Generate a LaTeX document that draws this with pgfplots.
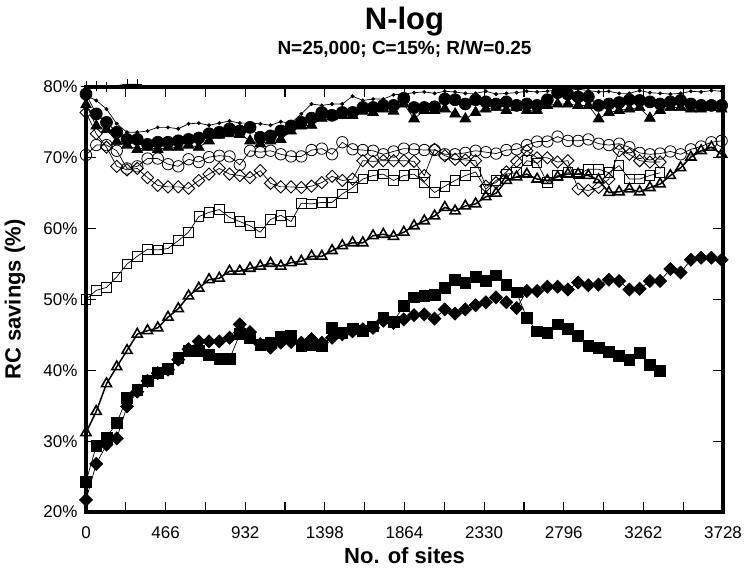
\documentclass[border=0pt]{standalone}
\usepackage{fontspec}
\setmainfont{Liberation Sans}
\usepackage{pgfplots}
\usepackage{pgfplotstable}
\pgfplotsset{compat=1.18}

\pgfplotstableread{
x sd fc ft oc od os ot fs fd
0 78.8 79.0 77.5 70.4 76.4 50.0 31.2 24.3 21.7
60 78.1 76.2 74.5 71.8 73.4 51.3 34.2 29.3 26.8
120 76.9 75.0 74.0 71.8 71.5 51.7 38.1 30.5 29.5
180 74.8 73.6 72.3 71.0 68.8 53.2 40.5 32.6 30.4
240 73.6 72.6 71.8 68.5 68.3 55.0 42.8 36.1 34.9
300 73.6 72.6 71.2 68.8 68.5 56.1 45.1 37.3 37.0
360 73.8 71.9 71.5 69.9 67.2 57.1 45.6 38.5 38.5
420 74.3 72.2 71.2 69.9 66.1 57.0 46.0 39.6 39.6
480 74.3 72.2 71.5 69.1 65.9 57.2 47.5 40.2 40.1
540 74.1 72.4 71.5 68.8 65.9 58.3 48.7 41.8 41.5
600 74.8 72.6 71.8 69.8 65.7 59.5 50.5 42.7 43.0
660 74.9 72.8 71.5 69.4 66.8 61.7 51.6 42.7 44.1
720 74.6 73.4 72.4 70.1 67.7 62.3 52.8 42.2 44.1
780 74.9 73.6 73.2 70.3 68.5 62.7 53.0 41.6 44.1
840 75.2 74.1 73.4 70.2 67.7 61.6 54.0 41.6 44.6
900 74.9 73.8 73.3 69.0 67.5 61.0 54.0 45.1 46.5
960 74.9 74.3 72.4 71.0 67.2 60.4 54.4 44.6 45.4
1020 74.8 72.9 72.0 70.8 68.2 59.5 54.7 43.6 43.7
1080 74.6 73.1 72.4 71.0 66.4 61.3 55.1 43.9 43.2
1140 75.1 73.8 72.6 70.5 65.9 61.9 54.7 44.8 43.9
1200 74.9 74.5 73.8 70.2 65.9 61.0 55.2 44.9 44.0
1260 76.2 75.0 74.5 70.2 65.8 63.6 55.4 43.4 43.9
1320 77.6 75.6 74.6 71.1 66.0 63.5 56.1 43.6 44.4
1380 77.4 76.4 75.6 71.3 66.5 63.7 56.1 43.4 43.9
1440 77.6 76.0 75.8 70.5 67.4 63.7 56.9 46.0 44.6
1500 77.6 76.4 76.0 72.2 66.8 64.9 57.6 45.3 45.1
1560 78.7 76.4 76.0 71.2 67.0 65.8 58.0 45.8 45.5
1620 78.1 77.1 76.6 71.1 69.6 67.0 58.0 45.6 45.8
1680 78.3 77.1 76.4 71.0 69.5 67.5 59.0 46.2 46.0
1740 78.3 77.4 76.9 70.5 69.6 67.7 59.2 47.4 47.0
1800 78.9 77.4 76.6 70.9 69.6 66.8 58.9 46.9 46.7
1860 79.0 78.4 77.6 71.3 69.6 67.5 59.5 49.1 47.2
1920 79.2 77.1 75.5 71.2 69.5 67.7 60.4 50.3 47.8
1980 79.3 77.1 76.7 71.1 67.5 66.5 61.1 50.5 47.9
2040 79.1 77.2 76.7 71.1 71.2 65.1 61.8 50.7 47.3
2100 79.4 78.3 76.9 70.5 70.3 66.0 63.0 51.7 48.6
2160 79.3 78.2 76.2 70.5 69.8 66.8 62.5 52.8 48.0
2220 79.1 77.6 75.5 70.7 69.7 67.5 63.2 52.4 48.6
2280 79.1 78.2 76.4 71.0 69.6 68.0 63.5 53.2 49.2
2340 79.4 77.9 76.9 70.8 66.0 65.6 64.5 52.6 49.6
2400 79.0 77.6 77.1 70.6 66.5 66.8 65.0 53.4 50.3
2460 79.1 77.9 76.7 71.1 68.0 67.7 66.8 52.1 49.6
2520 79.2 77.4 77.1 71.2 69.5 67.9 67.3 51.0 48.8
2580 79.4 77.6 76.7 71.8 71.0 69.6 67.7 47.4 51.2
2640 79.3 77.4 76.7 72.3 70.0 69.3 67.0 45.5 51.2
2700 79.4 78.2 77.4 72.3 70.0 66.5 66.8 45.3 51.8
2760 79.6 79.2 77.6 73.0 69.4 67.5 67.3 46.5 51.8
2820 79.5 79.0 77.6 72.4 69.6 67.9 67.7 45.9 51.4
2880 79.7 78.6 77.4 72.4 65.6 67.7 67.7 44.9 52.4
2940 79.5 78.6 77.4 72.6 65.4 68.4 67.5 43.4 52.0
3000 79.3 77.4 75.5 72.0 65.8 68.4 66.9 43.2 52.1
3060 79.4 77.6 76.4 71.8 67.0 67.9 65.1 42.6 52.8
3120 79.1 77.8 76.7 72.0 71.0 68.9 65.2 42.0 52.6
3180 79.1 78.2 76.9 71.5 70.5 67.0 65.6 41.5 51.4
3240 79.5 78.1 77.1 70.7 69.6 67.0 65.2 42.5 51.5
3300 79.2 77.9 75.6 70.5 69.4 67.5 65.8 40.8 52.6
3360 79.1 77.6 76.7 70.6 69.4 67.9 66.3 39.9 52.6
3420 79.0 77.9 77.1 70.9 nan nan 67.5 nan 54.3
3480 79.1 78.1 77.1 70.5 nan nan 68.6 nan 53.8
3540 79.4 77.6 76.9 71.2 nan nan 70.1 nan 55.6
3600 79.3 77.4 76.9 71.6 nan nan 71.0 nan 55.9
3660 79.5 77.4 77.1 72.2 nan nan 71.5 nan 55.9
3720 79.4 77.4 76.9 72.4 nan nan 70.5 nan 55.6
}\data

\pgfplotstableread{
x y
0 80.1
60 80.1
120 80.0
240 80.4
300 80.4
}\plusdata

\begin{document}
\begin{tikzpicture}
\useasboundingbox (-86pt,-57pt) rectangle (660pt,512pt);
\begin{axis}[
  at={(0pt,0pt)}, anchor=south west,
  scale only axis, width=637pt, height=425pt,
  xmin=0, xmax=3728, ymin=20, ymax=80,
  clip=false,
  xtick={0,466,...,3728}, minor x tick num=1,
  ytick={20,30,...,80},
  scaled x ticks=false,
  /pgf/number format/1000 sep={},
  /pgf/number format/assume math mode=true,
  yticklabel={\pgfmathprintnumber{\tick}\%},
  tick align=inside,
  major tick length=10pt, minor tick length=10pt,
  every tick/.style={line width=1.2pt, black},
  axis line style={line width=3.2pt},
  ticklabel style={font=\fontsize{17}{20}\selectfont},
  xticklabel style={yshift=-11pt},
  yticklabel style={xshift=-5pt},
  xlabel={No. of sites}, ylabel={RC savings (\%)},
  label style={font=\fontsize{22}{26}\selectfont\bfseries},
  xlabel style={at={(axis description cs:0.5,-0.103)}, anchor=center},
  ylabel style={at={(axis description cs:-0.1115,0.5)}, anchor=center},
]
\node[font=\fontsize{31}{36}\selectfont\bfseries, yshift=65pt] at (rel axis cs:0.5,1) {N-log};
\node[font=\fontsize{19}{23}\selectfont\bfseries, yshift=38pt] at (rel axis cs:0.5,1) {N=25,000; C=15\%; R/W=0.25};

\addplot[black, line width=0.7pt, mark=+, mark size=5pt, mark options={line width=0.8pt}] table[x=x,y=y]{\plusdata};
\addplot[black, line width=0.7pt, mark=*, mark size=1.6pt] table[x=x,y=sd]{\data};
\addplot[black, line width=0.7pt, mark=o, mark size=5.7pt, mark options={line width=0.8pt}] table[x=x,y=oc]{\data};
\addplot[black, line width=0.7pt, mark=square, mark size=4.3pt, mark options={rotate=45, line width=0.9pt}] table[x=x,y=od]{\data};
\addplot[black, line width=0.7pt, mark=square, mark size=4.8pt, mark options={line width=0.9pt}] table[x=x,y=os]{\data};
\addplot[black, line width=1.5pt, mark=triangle, mark size=5.8pt, mark options={line width=1.6pt}] table[x=x,y=ot]{\data};
\addplot[black, line width=0.7pt, mark=square*, mark size=5.4pt] table[x=x,y=fs]{\data};
\addplot[black, line width=0.7pt, mark=square*, mark size=4.6pt, mark options={rotate=45}] table[x=x,y=fd]{\data};
\addplot[black, line width=0.7pt, mark=triangle*, mark size=6.2pt] table[x=x,y=ft]{\data};
\addplot[black, line width=0.7pt, mark=*, mark size=6pt] table[x=x,y=fc]{\data};
\end{axis}
\end{tikzpicture}
\end{document}
